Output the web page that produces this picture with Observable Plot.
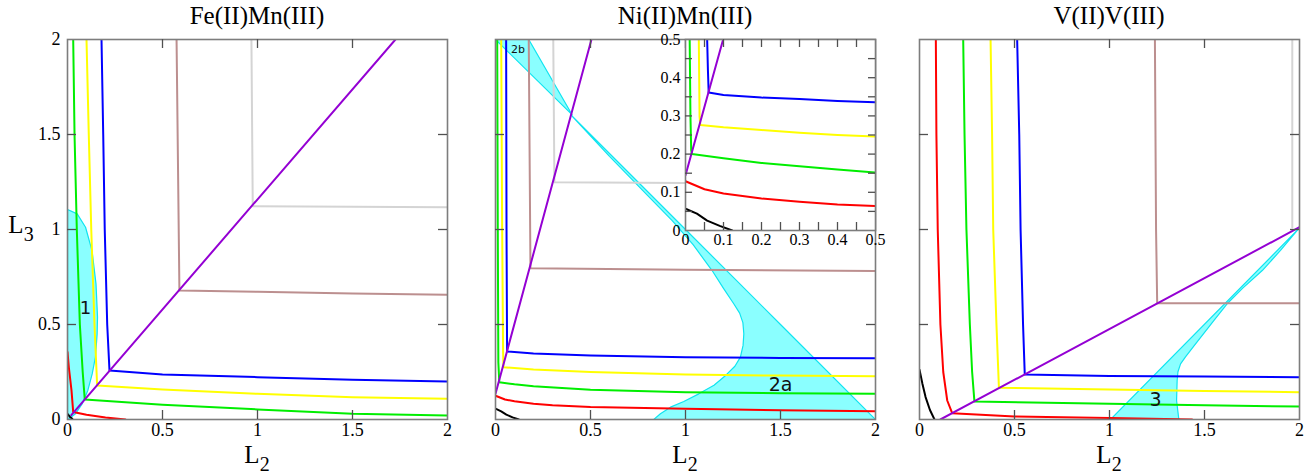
<!DOCTYPE html>
<html><head><meta charset="utf-8">
<script src="https://cdn.jsdelivr.net/npm/d3@7"></script>
<script src="https://cdn.jsdelivr.net/npm/@observablehq/plot@0.6"></script>
<style>
body{margin:0;background:#fff;}
#wrap{position:relative;width:1312px;height:475px;overflow:hidden;font-family:"Liberation Serif","Times New Roman",serif;color:#000;}
.svgbox{position:absolute;top:0;}
.title{position:absolute;top:3px;font-size:25px;line-height:1;transform:translateX(-50%);white-space:nowrap;}
.axlab{position:absolute;font-size:25px;line-height:0.7;transform:translateX(-50%);white-space:nowrap;}
.axlab sub{font-size:20px;vertical-align:-8px;line-height:0;}
</style></head>
<body><div id="wrap"></div>
<script>
// ---------------- data ----------------
const panelTitles = ["Fe(II)Mn(III)", "Ni(II)Mn(III)", "V(II)V(III)"];
const xLabel = ["L", "2"];
const yLabel = ["L", "3"];
const tickLabels = [0, 0.5, 1, 1.5, 2];
const tickMarks = [0.5, 1, 1.5];
const insetTickLabels = [0, 0.1, 0.2, 0.3, 0.4, 0.5];
const insetTickMarks = [0.05, 0.1, 0.15, 0.2, 0.25, 0.3, 0.35, 0.4, 0.45];

// Fe(II)Mn(III)
const feGray   = [[0.968,2],[0.975,1.123],[1.5,1.12],[2,1.117]];
const feBrown  = [[0.574,2],[0.589,0.679],[1,0.672],[1.5,0.663],[2,0.656]];
const fePurple = [[0.02,0.023],[1.726,2]];
const feBlue   = [[0.179,2],[0.188,1.5],[0.196,1],[0.209,0.5],[0.221,0.258],[0.5,0.237],[1,0.223],[1.5,0.209],[2,0.2]];
const feYellow = [[0.1,2],[0.112,1.5],[0.125,1],[0.142,0.5],[0.156,0.179],[0.5,0.158],[1,0.135],[1.5,0.117],[2,0.109]];
const feGreen  = [[0.03,2],[0.037,1.5],[0.049,1],[0.065,0.5],[0.08,0.25],[0.091,0.105],[0.5,0.077],[1,0.053],[1.5,0.03],[2,0.021]];
const feRed    = [[0,0.355],[0.007,0.275],[0.021,0.153],[0.03,0.04],[0.1,0.025],[0.2,0.01],[0.305,0]];
const feBlack  = [[0,0.03],[0.012,0.015],[0.025,0.004]];
const feRegion1 = [[0,1.105],[0.051,1.082],[0.095,1.012],[0.129,0.889],[0.15,0.714],[0.158,0.539],[0.156,0.45],[0.147,0.328],[0.13,0.24],[0.107,0.153],[0.077,0.082],[0.042,0.03],[0.007,0.003],[0,0],[0,1.105]];
const feRegionLabels = [{text:"1", x:0.095, y:0.584, size:18}];

// Ni(II)Mn(III)
const niGray   = [[0.304,2],[0.31,1.249],[1,1.245],[2,1.24]];
const niBrown  = [[0.175,2],[0.184,0.796],[1,0.788],[2,0.781]];
const niPurple = [[0,0.135],[0.505,2]];
const niBlue   = [[0.056,2],[0.058,1],[0.061,0.358],[0.2,0.348],[0.5,0.337],[1,0.328],[1.5,0.324],[2,0.323]];
const niYellow = [[0.03,2],[0.035,1],[0.04,0.35],[0.042,0.275],[0.2,0.263],[0.5,0.25],[1,0.237],[1.5,0.231],[2,0.228]];
const niGreen  = [[0.009,2],[0.012,1],[0.015,0.3],[0.02,0.196],[0.1,0.185],[0.2,0.175],[0.5,0.156],[1,0.144],[1.5,0.138],[2,0.135]];
const niRed    = [[0,0.125],[0.05,0.105],[0.1,0.096],[0.2,0.083],[0.3,0.075],[0.5,0.066],[1,0.056],[1.5,0.049],[2,0.044]];
const niBlack  = [[0,0.057],[0.03,0.043],[0.057,0.026],[0.09,0.011],[0.123,0]];
const niRegion2b = [[0,2],[0.175,2],[0.404,1.603],[0,2]];
const niRegion2a = [[0.404,1.596],[0.7,1.3],[1,1],[1.5,0.5],[2,0],[0.833,0],[0.868,0.03],[0.921,0.065],[0.991,0.095],[1.07,0.135],[1.15,0.18],[1.211,0.232],[1.26,0.28],[1.289,0.328],[1.303,0.39],[1.307,0.451],[1.302,0.51],[1.285,0.56],[1.254,0.609],[1.2,0.69],[1.14,0.784],[1.04,0.92],[0.93,1.047],[0.8,1.18],[0.6,1.385],[0.404,1.596]];
const niRegionLabels = [{text:"2a", x:1.5, y:0.182, size:19},{text:"2b", x:0.118, y:1.947, size:11}];

// Ni(II)Mn(III) inset (0 - 0.5)
const inPurple = [[0,0.145],[0.099,0.5]];
const inBlue   = [[0.057,0.5],[0.059,0.42],[0.061,0.361],[0.1,0.355],[0.2,0.348],[0.3,0.344],[0.4,0.339],[0.5,0.336]];
const inYellow = [[0.035,0.5],[0.036,0.4],[0.037,0.298],[0.039,0.276],[0.1,0.27],[0.2,0.263],[0.3,0.256],[0.4,0.25],[0.5,0.246]];
const inGreen  = [[0.011,0.5],[0.013,0.3],[0.015,0.21],[0.017,0.2],[0.1,0.189],[0.2,0.177],[0.3,0.168],[0.4,0.16],[0.5,0.152]];
const inRed    = [[0,0.129],[0.05,0.108],[0.1,0.097],[0.2,0.084],[0.3,0.075],[0.4,0.068],[0.5,0.064]];
const inBlack  = [[0,0.057],[0.03,0.044],[0.057,0.026],[0.09,0.012],[0.123,0]];

// V(II)V(III)
const vGray   = [[1.962,2],[1.962,1.01]];
const vBrown  = [[1.239,2],[1.245,1],[1.251,0.612],[2,0.612]];
const vPurple = [[0.11,0],[2,1.012]];
const vBlue   = [[0.514,2],[0.525,1.5],[0.532,1],[0.545,0.5],[0.554,0.237],[1,0.229],[1.5,0.226],[2,0.223]];
const vYellow = [[0.374,2],[0.382,1.5],[0.388,1],[0.405,0.5],[0.418,0.167],[1,0.158],[1.5,0.15],[2,0.144]];
const vGreen  = [[0.23,2],[0.237,1.5],[0.247,1],[0.265,0.5],[0.277,0.25],[0.289,0.095],[1,0.083],[1.5,0.075],[2,0.068]];
const vRed    = [[0.086,2],[0.089,1.5],[0.096,1],[0.11,0.5],[0.125,0.25],[0.146,0.1],[0.172,0.033],[0.5,0.016],[1,0.008],[1.435,0]];
const vBlack  = [[0,0.262],[0.015,0.19],[0.032,0.118],[0.055,0.05],[0.079,0]];
const vRegion3 = [[1.005,0],[1.996,1.004],[1.9,0.89],[1.804,0.784],[1.7,0.69],[1.619,0.609],[1.549,0.521],[1.453,0.398],[1.4,0.33],[1.374,0.293],[1.36,0.25],[1.356,0.205],[1.353,0.1],[1.365,0],[1.005,0]];
const vRegionLabels = [{text:"3", x:1.242, y:0.105, size:19}];

// ---------------- styles ----------------
const C = {gray:"#d4d4d4", brown:"#bc8f8f", purple:"#9400d3", blue:"#0000ff", yellow:"#ffff00",
           green:"#00ee00", red:"#ff0000", black:"#000000", cyanFill:"#00ffff", cyanStroke:"#10e4f0",
           frame:"#7d7d7d", tick:"#505050"};
const X = d => d[0], Y = d => d[1];

function curveMarks(list) {
  return list.map(([pts, color]) => Plot.line(pts, {x: X, y: Y, stroke: color, strokeWidth: 2, clip: true}));
}
function regionMarks(list) {
  return list.map(pts => Plot.line(pts, {x: X, y: Y, fill: C.cyanFill, fillOpacity: 0.46,
    stroke: C.cyanStroke, strokeWidth: 1.2, clip: true}));
}
function tickMarksAll(vals, len, size) {
  const inset = size - len;
  return [
    Plot.ruleX(vals, {x: d => d, insetTop: inset, stroke: C.tick, strokeWidth: 1.3}),
    Plot.ruleX(vals, {x: d => d, insetBottom: inset, stroke: C.tick, strokeWidth: 1.3}),
    Plot.ruleY(vals, {y: d => d, insetRight: inset, stroke: C.tick, strokeWidth: 1.3}),
    Plot.ruleY(vals, {y: d => d, insetLeft: inset, stroke: C.tick, strokeWidth: 1.3})
  ];
}
function labelMarks(labels) {
  return labels.map(l => Plot.text([l], {x: "x", y: "y", text: "text", fontSize: l.size,
    fontFamily: "DejaVu Sans", fill: "#111"}));
}

function mainPanel({left, width, marginLeft, marginRight, regions, curves, labels, showY}) {
  const fmt = d => String(d);
  const marks = [
    ...regionMarks(regions),
    ...curveMarks(curves),
    Plot.frame({stroke: C.frame, strokeWidth: 1.6}),
    ...tickMarksAll(tickMarks, 9, 380),
    Plot.axisX(tickLabels, {anchor: "bottom", tickSize: 0, tickPadding: 4, tickFormat: fmt, fontSize: 18}),
    ...labelMarks(labels)
  ];
  if (showY) marks.push(Plot.axisY(tickLabels, {anchor: "left", tickSize: 0, tickPadding: 7, tickFormat: fmt, fontSize: 18}));
  const svg = Plot.plot({
    width, height: 475, marginLeft, marginRight, marginTop: 39, marginBottom: 56,
    x: {domain: [0, 2], label: null},
    y: {domain: [0, 2], label: null, axis: showY ? undefined : null},
    style: {fontFamily: "Liberation Serif", fontSize: "18px", color: "black", background: "transparent", overflow: "visible"},
    marks
  });
  const box = document.createElement("div");
  box.className = "svgbox";
  box.style.left = left + "px";
  box.appendChild(svg);
  return box;
}

const wrap = document.getElementById("wrap");
wrap.appendChild(mainPanel({left: 0, width: 460, marginLeft: 67, marginRight: 13,
  regions: [feRegion1],
  curves: [[feGray,C.gray],[feBrown,C.brown],[feBlack,C.black],[feRed,C.red],[feGreen,C.green],[feYellow,C.yellow],[feBlue,C.blue],[fePurple,C.purple]],
  labels: feRegionLabels, showY: true}));
wrap.appendChild(mainPanel({left: 460, width: 430, marginLeft: 35, marginRight: 15,
  regions: [niRegion2a, niRegion2b],
  curves: [[niGray,C.gray],[niBrown,C.brown],[niBlack,C.black],[niRed,C.red],[niGreen,C.green],[niYellow,C.yellow],[niBlue,C.blue],[niPurple,C.purple]],
  labels: niRegionLabels, showY: false}));
wrap.appendChild(mainPanel({left: 890, width: 422, marginLeft: 29, marginRight: 13,
  regions: [vRegion3],
  curves: [[vGray,C.gray],[vBrown,C.brown],[vBlack,C.black],[vRed,C.red],[vGreen,C.green],[vYellow,C.yellow],[vBlue,C.blue],[vPurple,C.purple]],
  labels: vRegionLabels, showY: false}));

// inset
{
  const fmt = d => String(d);
  const svg = Plot.plot({
    width: 250, height: 240, marginLeft: 45, marginRight: 15, marginTop: 19, marginBottom: 30,
    x: {domain: [0, 0.5], label: null},
    y: {domain: [0, 0.5], label: null},
    style: {fontFamily: "Liberation Serif", fontSize: "16px", color: "black", background: "transparent", overflow: "visible"},
    marks: [
      Plot.frame({fill: "white", stroke: null}),
      ...curveMarks([[inBlack,C.black],[inRed,C.red],[inGreen,C.green],[inYellow,C.yellow],[inBlue,C.blue],[inPurple,C.purple]]),
      Plot.frame({stroke: C.frame, strokeWidth: 1.6}),
      ...tickMarksAll(insetTickMarks, 8, 191),
      Plot.axisX(insetTickLabels, {anchor: "bottom", tickSize: 0, tickPadding: 3, tickFormat: fmt, fontSize: 16}),
      Plot.axisY(insetTickLabels, {anchor: "left", tickSize: 0, tickPadding: 5, tickFormat: fmt, fontSize: 16})
    ]
  });
  const box = document.createElement("div");
  box.className = "svgbox";
  box.style.left = "640px";
  box.style.top = "20px";
  box.appendChild(svg);
  wrap.appendChild(box);
}

// titles and axis labels
const centers = [257, 685, 1109];
panelTitles.forEach((t, i) => {
  const d = document.createElement("div");
  d.className = "title";
  d.style.left = centers[i] + "px";
  d.textContent = t;
  wrap.appendChild(d);
  const l = document.createElement("div");
  l.className = "axlab";
  l.style.left = centers[i] + "px";
  l.style.top = "446px";
  l.innerHTML = xLabel[0] + "<sub>" + xLabel[1] + "</sub>";
  wrap.appendChild(l);
});
{
  const l = document.createElement("div");
  l.className = "axlab";
  l.style.left = "21px";
  l.style.top = "216px";
  l.innerHTML = yLabel[0] + "<sub>" + yLabel[1] + "</sub>";
  wrap.appendChild(l);
}
</script>
</body></html>
